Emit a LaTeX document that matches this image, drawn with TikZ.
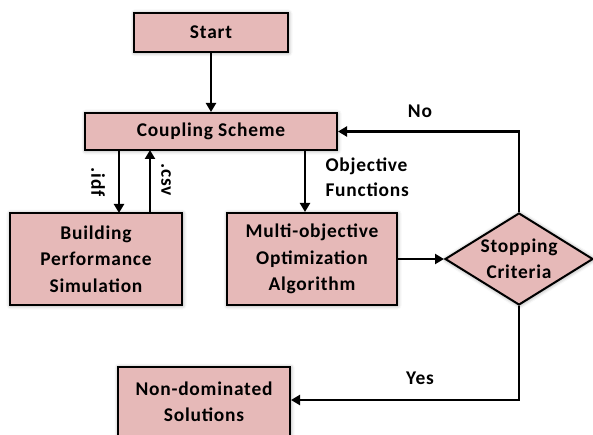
\documentclass[tikz,border=0pt]{standalone}
\usepackage{fontspec}
\setmainfont{Carlito}[LetterSpace=4]
\usetikzlibrary{shapes.geometric,arrows.meta,shadows.blur}
\definecolor{boxfill}{HTML}{E6B9B8}
\tikzset{
  flowbox/.style={draw=black, line width=2bp, fill=boxfill, align=center,
    font=\bfseries\fontsize{19.5}{26.5}\selectfont, inner sep=0pt,
    blur shadow={shadow xshift=0.5bp, shadow yshift=-0.5bp, shadow blur radius=4bp, shadow opacity=45}},
  decision/.style={flowbox, diamond, aspect=1.61},
  flowarrow/.style={line width=2.2bp, -{Triangle[length=9bp,width=10bp]}},
  lbl/.style={font=\bfseries\fontsize{19.5}{25}\selectfont, align=left}
}
\begin{document}
\begin{tikzpicture}[x=1bp, y=-1bp]
\useasboundingbox (0,0) rectangle (593,435);

\node[flowbox, minimum width=154bp, minimum height=39bp] (start) at (211,32.5) {Start};
\node[flowbox, minimum width=252bp, minimum height=37bp] (coupling) at (211,131.5) {Coupling Scheme};
\node[flowbox, minimum width=172bp, minimum height=92bp] (bps) at (96,259) {Building\\Performance\\Simulation};
\node[flowbox, minimum width=170bp, minimum height=92bp] (moo) at (312,259) {Multi-objective\\Optimization\\Algorithm};
\node[decision, minimum width=148bp, minimum height=92bp] (stop) at (519,259) {Stopping\\Criteria};
\node[flowbox, minimum width=172bp, minimum height=70bp] (nds) at (204,402) {Non-dominated\\Solutions};

\coordinate (idfTop) at (119,150);
\coordinate (idfBot) at (119,213);
\coordinate (csvTop) at (150,150);
\coordinate (csvBot) at (150,213);
\coordinate (objTop) at (305,150);
\coordinate (yesTurn) at (519,400);

\draw[flowarrow] (start.south) -- (coupling.north);
\draw[flowarrow] (idfTop) -- (idfBot);
\draw[flowarrow] (csvBot) -- (csvTop);
\draw[flowarrow] (objTop) -- (moo.north -| objTop);
\draw[flowarrow] (moo.east) -- (stop.west);
\draw[flowarrow] (stop.north) |- (coupling.east);
\draw[flowarrow] (stop.south) -- (yesTurn) -- (nds.east |- yesTurn);

\node[lbl, rotate=-90] (idf) at (98,182) {.idf};
\node[lbl, rotate=-90] (csv) at (166,180) {.csv};
\node[lbl, anchor=north west] (obj) at (322,154) {Objective\\Functions};
\node[lbl] (no) at (420,111) {No};
\node[lbl] (yes) at (420,378) {Yes};
\end{tikzpicture}
\end{document}
